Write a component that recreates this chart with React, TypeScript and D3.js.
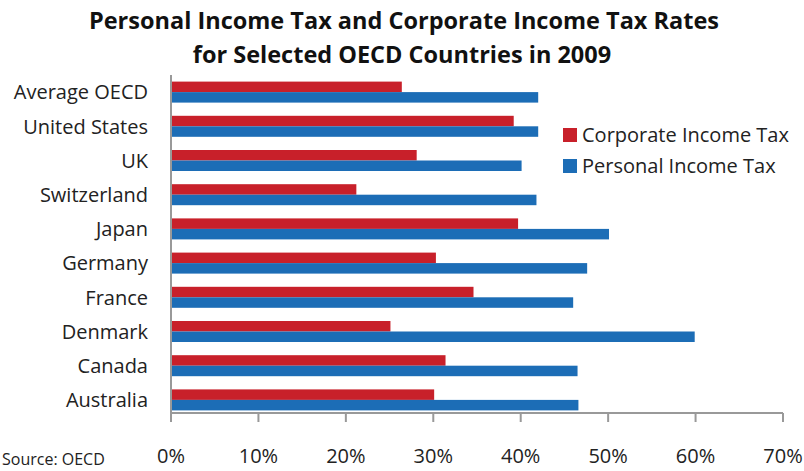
import React, { useEffect, useRef } from "react";
import * as d3 from "d3";

const countries = [
  "Average OECD",
  "United States",
  "UK",
  "Switzerland",
  "Japan",
  "Germany",
  "France",
  "Denmark",
  "Canada",
  "Australia",
];
const corporateTax = [26.4, 39.2, 28.1, 21.2, 39.7, 30.3, 34.6, 25.1, 31.4, 30.1];
const personalTax = [42.0, 42.0, 40.1, 41.8, 50.1, 47.6, 46.0, 59.9, 46.5, 46.6];
const xTicks = [0, 10, 20, 30, 40, 50, 60, 70];
const seriesNames = ["Corporate Income Tax", "Personal Income Tax"];
const seriesColors = ["#c8202a", "#1c6db6"];

const W = 804;
const H = 471;
const FONT = "'Open Sans', sans-serif";

export default function App() {
  const ref = useRef<SVGSVGElement>(null);

  useEffect(() => {
    const svg = d3.select(ref.current);
    svg.selectAll("*").remove();

    const left = 171;
    const right = 783;
    const axisY = 413;

    const x = d3.scaleLinear().domain([0, 70]).range([left, right]);
    const y = d3.scaleBand<string>().domain(countries).range([75, 417]);
    const barH = 10.5;

    // title
    const title = svg
      .append("text")
      .attr("text-anchor", "middle")
      .style("font-family", FONT)
      .style("font-weight", "bold")
      .style("font-size", "23.5px")
      .attr("fill", "#111");
    title.append("tspan").attr("x", 404).attr("y", 29).text("Personal Income Tax and Corporate Income Tax Rates");
    title.append("tspan").attr("x", 402).attr("y", 63).text("for Selected OECD Countries in 2009");

    // bars
    const g = svg.append("g");
    countries.forEach((c, i) => {
      const cy = (y(c) as number) + y.bandwidth() / 2;
      g.append("rect")
        .attr("x", x(0))
        .attr("y", cy - barH)
        .attr("width", x(corporateTax[i]) - x(0))
        .attr("height", barH)
        .attr("fill", seriesColors[0]);
      g.append("rect")
        .attr("x", x(0))
        .attr("y", cy)
        .attr("width", x(personalTax[i]) - x(0))
        .attr("height", barH)
        .attr("fill", seriesColors[1]);
    });

    // category labels
    svg
      .append("g")
      .selectAll("text")
      .data(countries)
      .enter()
      .append("text")
      .attr("x", left - 23)
      .attr("y", (d) => (y(d) as number) + y.bandwidth() / 2)
      .attr("dy", "0.36em")
      .attr("text-anchor", "end")
      .style("font-family", FONT)
      .style("font-size", "20px")
      .attr("fill", "#222")
      .text((d) => d);

    // axes lines
    svg
      .append("line")
      .attr("x1", left)
      .attr("x2", left)
      .attr("y1", 75)
      .attr("y2", axisY)
      .attr("stroke", "#999")
      .attr("stroke-width", 2);
    svg
      .append("line")
      .attr("x1", left)
      .attr("x2", right)
      .attr("y1", axisY)
      .attr("y2", axisY)
      .attr("stroke", "#999")
      .attr("stroke-width", 2);

    // x ticks
    const tg = svg.append("g").selectAll("g").data(xTicks).enter().append("g");
    tg.append("line")
      .attr("x1", (d) => x(d))
      .attr("x2", (d) => x(d))
      .attr("y1", axisY)
      .attr("y2", axisY + 9)
      .attr("stroke", "#999")
      .attr("stroke-width", 2);
    tg.append("text")
      .attr("x", (d) => x(d))
      .attr("y", 463)
      .attr("text-anchor", "middle")
      .style("font-family", FONT)
      .style("font-size", "20px")
      .attr("fill", "#222")
      .text((d) => `${d}%`);

    // legend
    const lg = svg.append("g");
    seriesNames.forEach((name, i) => {
      const ly = 135 + i * 31;
      lg.append("rect")
        .attr("x", 563)
        .attr("y", ly - 7)
        .attr("width", 14)
        .attr("height", 14)
        .attr("fill", seriesColors[i]);
      lg.append("text")
        .attr("x", 582)
        .attr("y", ly)
        .attr("dy", "0.36em")
        .style("font-family", FONT)
        .style("font-size", "20px")
        .attr("fill", "#222")
        .text(name);
    });

    // source
    svg
      .append("text")
      .attr("x", 2)
      .attr("y", 465)
      .style("font-family", FONT)
      .style("font-size", "16px")
      .attr("fill", "#222")
      .text("Source: OECD");
  }, []);

  return (
    <svg
      ref={ref}
      width={W}
      height={H}
      style={{ position: "absolute", left: 0, top: 0, background: "#fff" }}
    />
  );
}
